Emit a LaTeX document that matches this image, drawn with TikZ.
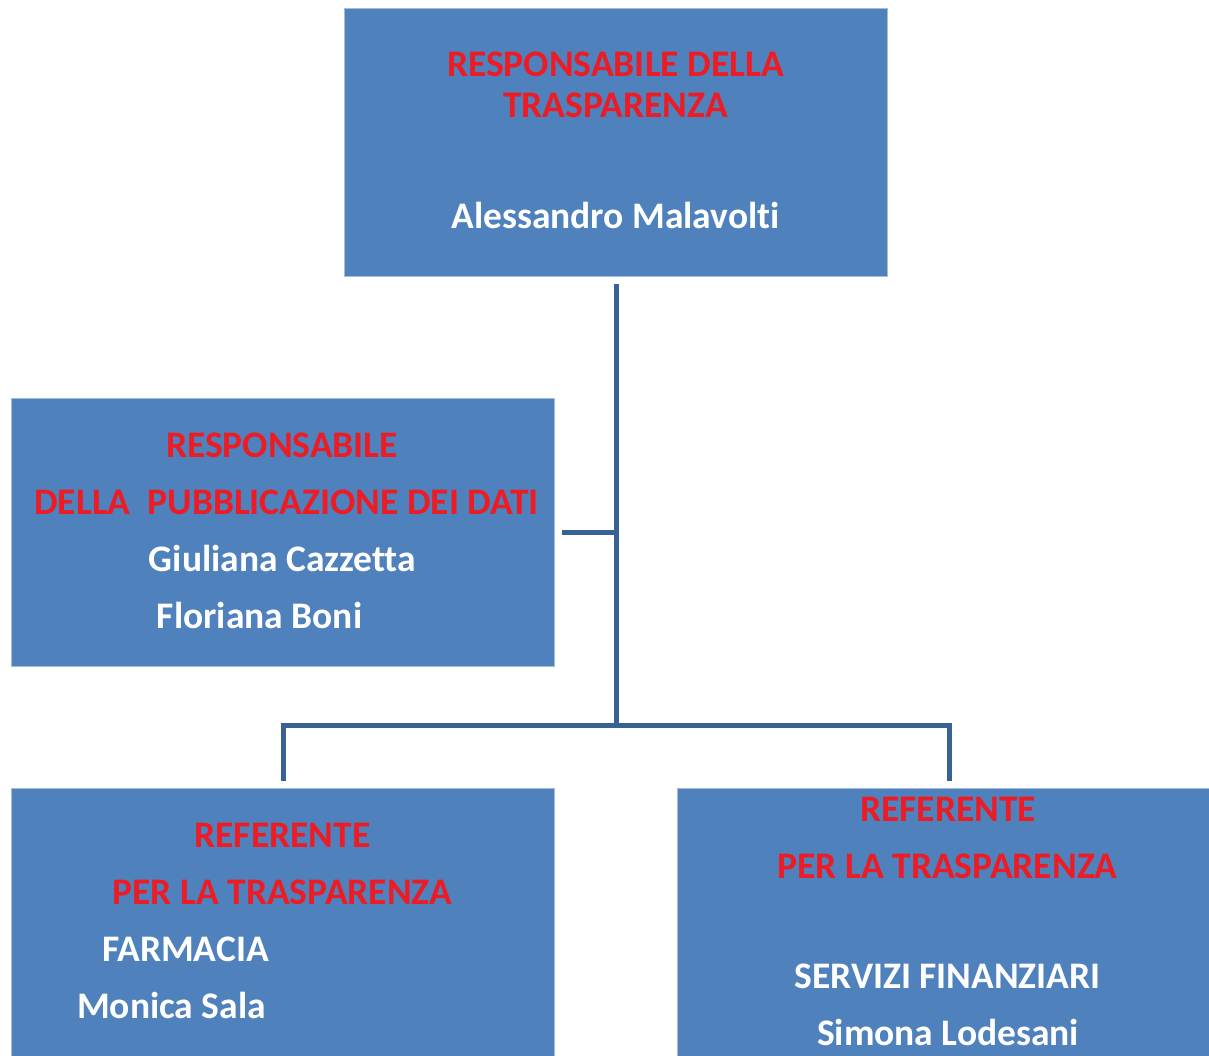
\documentclass[tikz,border=0pt]{standalone}
\usepackage{fontspec}
\setmainfont{Carlito}[Ligatures=CommonOff]
\usetikzlibrary{positioning}
\definecolor{boxblue}{RGB}{79,129,189}
\definecolor{boxedge}{RGB}{160,188,222}
\definecolor{linkblue}{RGB}{56,98,148}
\definecolor{titlered}{RGB}{237,28,36}

\begin{document}
\begin{tikzpicture}[x=1pt,y=1pt,yscale=-1,
  orgbox/.style={draw=boxedge,line width=1.2pt,fill=boxblue,inner sep=0pt,anchor=north west,minimum width=543,minimum height=268},
  redline/.style={text=titlered,anchor=base,inner sep=0pt,font=\bfseries\fontsize{37.5}{42}\selectfont},
  whiteline/.style={text=white,anchor=base,inner sep=0pt,font=\bfseries\fontsize{37.5}{42}\selectfont},
  link/.style={draw=linkblue,line width=5pt}]
\useasboundingbox (0,0) rectangle (1209,1055);

%Boxes
\node[orgbox] (resp) at (344,8) {};
\node[orgbox] (pubb) at (11,398) {};
\node[orgbox] (refa) at (11,788) {};
\node[orgbox] (refb) at (677,788) {};

%Connectors
\coordinate (hub) at (616,725);
\draw[link] ([yshift=7pt]resp.south -| hub) -- (hub);
\draw[link] ([xshift=7pt]pubb.east) -- (pubb.east -| hub);
\draw[link] ([yshift=-7pt]refa.north) |- (hub) -| ([yshift=-7pt]refb.north);

% Text Node
\node[redline] (t1) at (615.5,76) {RESPONSABILE DELLA};
\node[redline] (t2) at (615.5,117) {TRASPARENZA};
\node[whiteline] (t3) at (615.5,228) {Alessandro Malavolti};
% Text Node
\node[redline] (m1) at (282,457) {RESPONSABILE};
\node[redline] (m2) at (286.5,514) {DELLA\ \ PUBBLICAZIONE DEI DATI};
\node[whiteline] (m3) at (282.5,571) {Giuliana Cazzetta};
\node[whiteline] (m4) at (259.5,628) {Floriana Boni};
% Text Node
\node[redline] (a1) at (282.5,847) {REFERENTE};
\node[redline] (a2) at (282.5,904) {PER LA TRASPARENZA};
\node[whiteline] (a3) at (185.5,961) {FARMACIA};
\node[whiteline] (a4) at (171.5,1018) {Monica Sala};
% Text Node
\node[redline] (b1) at (948,821) {REFERENTE};
\node[redline] (b2) at (947.5,878) {PER LA TRASPARENZA};
\node[whiteline] (b3) at (947.5,988) {SERVIZI FINANZIARI};
\node[whiteline] (b4) at (948,1045) {Simona Lodesani};

\end{tikzpicture}
\end{document}
